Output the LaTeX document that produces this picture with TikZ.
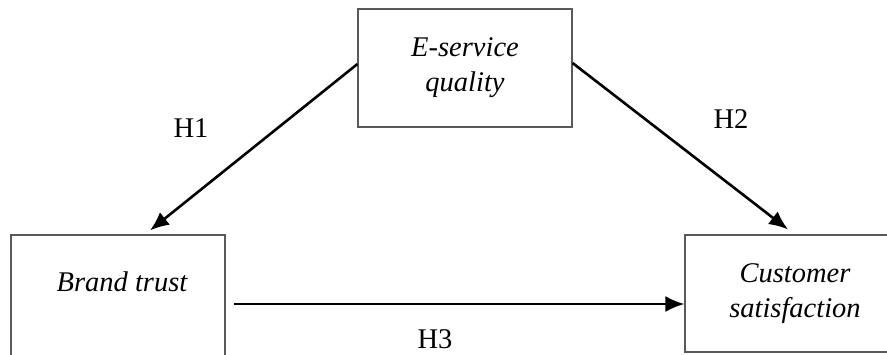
\documentclass[tikz,border=0pt]{standalone}
\usepackage{fontspec}
\setmainfont{Liberation Serif}
\usetikzlibrary{arrows.meta,calc}

\begin{document}
\begin{tikzpicture}[x=1pt,y=-1pt,>={Latex[length=19pt,width=16pt]},
  box/.style={draw=black!65,line width=1.1pt,inner sep=0pt,
    font=\fontsize{28.5}{35}\selectfont\itshape,align=center},
  hyp/.style={font=\fontsize{28.5}{34}\selectfont},
  arr/.style={->,line width=2.6pt}]

\useasboundingbox (0,0) rectangle (887,354);

\node[box,minimum width=214pt,minimum height=118pt] (eq) at (465,68)
  {E-service\\quality};
\node[box,minimum width=214pt,minimum height=138pt] (trust) at (118,304) {};
\node[font=\fontsize{28.5}{35}\selectfont\itshape] (trusttxt) at (122,282) {Brand trust};
\node[box,minimum width=220pt,minimum height=117pt] (sat) at (795,293.5)
  {Customer\\satisfaction};

\draw[arr] ([yshift=4pt]eq.west) -- ([xshift=32pt,yshift=4pt]trust.north);
\draw[arr] ([yshift=5pt]eq.east) -- ([xshift=-7pt,yshift=5pt]sat.north);
\draw[arr] ([xshift=8pt]trust.east) -- (trust.east -| sat.west);

\node[hyp] (h1) at (191,128) {H1};
\node[hyp] (h2) at (731,119) {H2};
\node[hyp] (h3) at (435,339) {H3};

\end{tikzpicture}
\end{document}
